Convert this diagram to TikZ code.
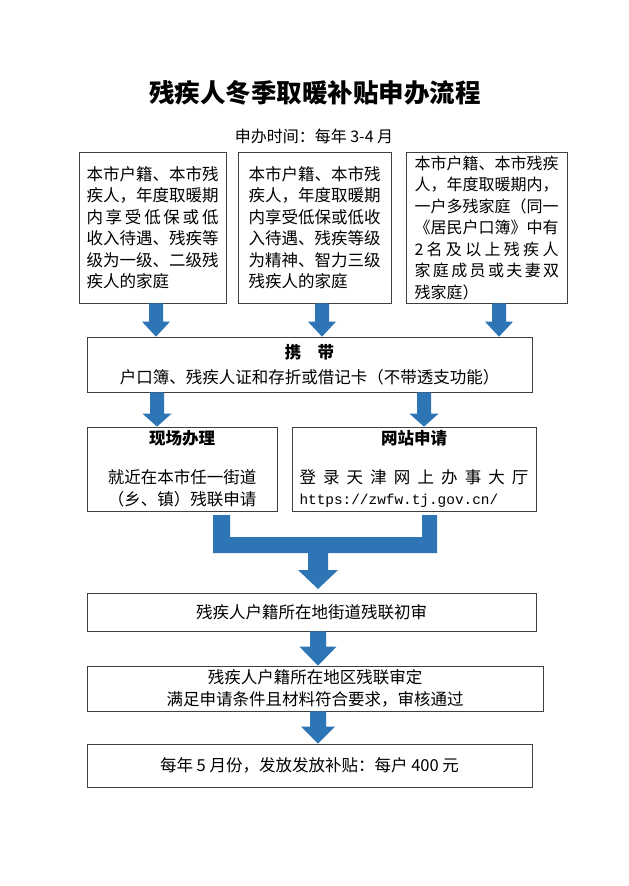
\documentclass[tikz,border=0pt]{standalone}
\usepackage{fontspec}
\setmainfont{Noto Sans CJK SC}
\newfontfamily\urlfont{Liberation Mono}
\usetikzlibrary{calc}
\definecolor{arrowblue}{RGB}{46,117,182}
\newcommand\blockarrow[5]{\fill [arrowblue] let \p1=#1, \p2=#2 in (\x1-#3,\y1) -- (\x1+#3,\y1) -- (\x1+#3,\y2+#5) -- (\x1+#4,\y2+#5) -- (\x1,\y2) -- (\x1-#4,\y2+#5) -- (\x1-#3,\y2+#5) -- cycle;}
\begin{document}
\begin{tikzpicture}[x=1pt,y=-1pt,
		box/.style={draw=black!75,line width=0.7pt,inner sep=0pt,align=center,font=\fontsize{16.5pt}{21.5pt}\selectfont},
		critbox/.style={box,align=left,minimum width=#1,minimum height=151pt}]
			\fill [white] (0,0) rectangle (629,886);
			\useasboundingbox (0,0) rectangle (629,886);
			\node (title) at (315,93) {\fontsize{25.5pt}{30pt}\selectfont\bfseries 残疾人冬季取暖补贴申办流程};
			\node (time) at (314,136) {\fontsize{16pt}{20pt}\selectfont 申办时间：每年 3-4 月};

			\node [critbox=147pt] (crit1) at (152.5,227.5) {本市户籍、本市残\\疾人，年度取暖期\\\makebox[132pt][s]{内 享 受 低 保 或 低}\\收入待遇、残疾等\\级为一级、二级残\\疾人的家庭};
			\node [critbox=153pt] (crit2) at (314.5,227.5) {本市户籍、本市残\\疾人，年度取暖期\\内享受低保或低收\\入待遇、残疾等级\\为精神、智力三级\\残疾人的家庭};
			\node [critbox=161pt,font=\fontsize{16pt}{21.5pt}\selectfont] (crit3) at (486.5,227.5) {本市户籍、本市残疾\\人，年度取暖期内，\\一户多残家庭（同一\\《居民户口簿》中有\\\makebox[144pt][s]{2 名 及 以 上 残 疾 人}\\\makebox[144pt][s]{家 庭 成 员 或 夫 妻 双}\\残家庭）};

			\node [box,minimum width=445pt,minimum height=55pt] (carry) at (309.5,364.5) {\textbf{携\quad 带}\\[4pt]户口簿、残疾人证和存折或借记卡（不带透支功能）};

			\node [box,minimum width=190pt,minimum height=84pt] (onsite) at (182,469) {\textbf{现场办理}\\[17.5pt]就近在本市任一街道\\（乡、镇）残联申请};
			\node [box,minimum width=244pt,minimum height=84pt] (web) at (414,469) {\textbf{网站申请}\\[17.5pt]\makebox[229pt][s]{登 录 天 津 网 上 办 事 大 厅}\\\makebox[229pt][l]{\urlfont\fontsize{14.4pt}{21.5pt}\selectfont https://zwfw.tj.gov.cn/}};

			\node [box,minimum width=449pt,minimum height=38pt] (check1) at (311.5,612) {残疾人户籍所在地街道残联初审};
			\node [box,minimum width=456pt,minimum height=45pt] (check2) at (315,688.5) {残疾人户籍所在地区残联审定\\满足申请条件且材料符合要求，审核通过};
			\node [box,minimum width=445pt,minimum height=43pt] (pay) at (309.5,765.5) {每年 5 月份，发放发放补贴：每户 400 元};

			\blockarrow{($(crit1.south)+(3.5,0)$)}{(carry.north)}{7pt}{14pt}{15pt}
			\blockarrow{($(crit2.south)+(7.5,0)$)}{(carry.north)}{7pt}{14pt}{15pt}
			\blockarrow{($(crit3.south)+(12.5,0)$)}{(carry.north)}{7pt}{14pt}{15pt}
			\blockarrow{($(carry.south)+(-152.5,0)$)}{(onsite.north)}{7pt}{14.5pt}{13pt}
			\blockarrow{($(carry.south)+(114.5,0)$)}{(web.north)}{7pt}{14.5pt}{13pt}
			\fill [arrowblue] (213,515) -- (230,515) -- (230,537) -- (422,537) -- (422,515) -- (437,515) -- (437,553) -- (328,553) -- (328,570) -- (338,570) -- (318,589) -- (298,570) -- (308,570) -- (308,553) -- (213,553) -- cycle;
			\blockarrow{($(check1.south)+(6.5,0)$)}{(check2.north)}{8pt}{18.5pt}{19pt}
			\blockarrow{($(check2.south)+(3,0)$)}{(pay.north)}{8pt}{17pt}{17pt}
		\end{tikzpicture}
\end{document}
